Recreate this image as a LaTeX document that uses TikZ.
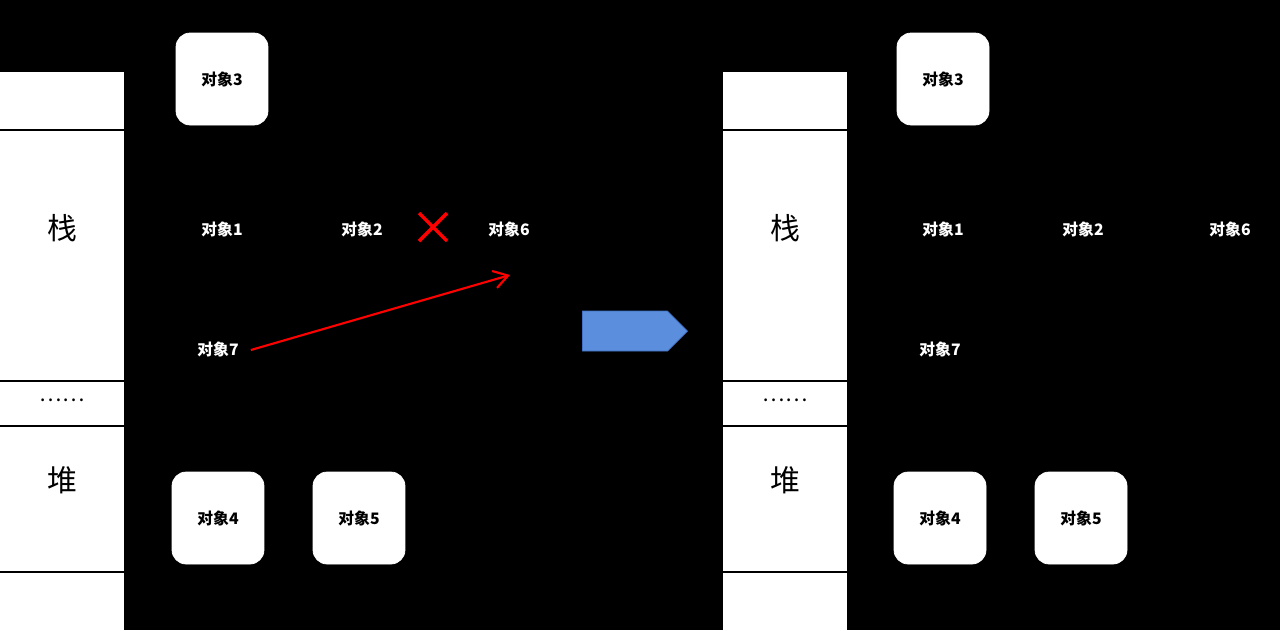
\documentclass[tikz,border=0pt]{standalone}
\usepackage{fontspec}
\setmainfont{Noto Sans CJK SC}
\usetikzlibrary{shapes.arrows,arrows.meta}
\tikzset{
  obj/.style={draw=white, fill=white, rounded corners=8pt, minimum size=1.84cm, text=black, font=\bfseries\fontsize{9}{10}\selectfont},
  objdark/.style={text=white, font=\bfseries\fontsize{9}{10}\selectfont},
  stackcell/.style={fill=white, draw=black, line width=1pt}
}
\begin{document}
\begin{tikzpicture}[x=0.02cm,y=-0.02cm]
  \fill[black] (0,0) rectangle (1280,630);
  \useasboundingbox (0,0) rectangle (1280,630);
  % stack columns
  \foreach \ox in {0,723} {
    \fill[white] (\ox,72) rectangle ++(124,558);
    \foreach \ly in {130,381,426,572}
      \draw[black, line width=1.2pt] (\ox,\ly) -- ++(124,0);
    \node[font=\fontsize{17}{18}\selectfont] at (\ox+62,228) {栈};
    \node[font=\fontsize{17}{18}\selectfont] at (\ox+62,480) {堆};
    \node[font=\fontsize{12}{12}\selectfont] at (\ox+62,400) {……};
  }
  % left
  \node[obj] (a3) at (222,79) {对象3};
  \node[obj] (a4) at (218,518) {对象4};
  \node[obj] (a5) at (359,518) {对象5};
  \node[objdark] (a1) at (222,229) {对象1};
  \node[objdark] (a2) at (362,229) {对象2};
  \node[objdark] (a6) at (509,229) {对象6};
  \node[objdark] (a7) at (218,349) {对象7};
  \coordinate (tip) at (510,275);
  \draw[red, line width=1.2pt, -{Straight Barb[length=8pt,width=10pt]}] (a7.east) ++(6,1) -- (tip);
  \draw[red, line width=2pt] (419,213) -- (447,241) (447,213) -- (419,241);
  % blue arrow
  \node[single arrow, fill={rgb,255:red,91;green,142;blue,220}, draw={rgb,255:red,65;green,113;blue,196},
    minimum height=2.1cm, minimum width=0.8cm, single arrow head extend=0cm, inner sep=0pt,
    single arrow tip angle=90] (go) at (625,331) {};
  % right
  \node[obj] (b3) at (943,79) {对象3};
  \node[obj] (b4) at (940,518) {对象4};
  \node[obj] (b5) at (1081,518) {对象5};
  \node[objdark] (b1) at (943,229) {对象1};
  \node[objdark] (b2) at (1083,229) {对象2};
  \node[objdark] (b6) at (1230,229) {对象6};
  \node[objdark] (b7) at (940,349) {对象7};
\end{tikzpicture}
\end{document}
